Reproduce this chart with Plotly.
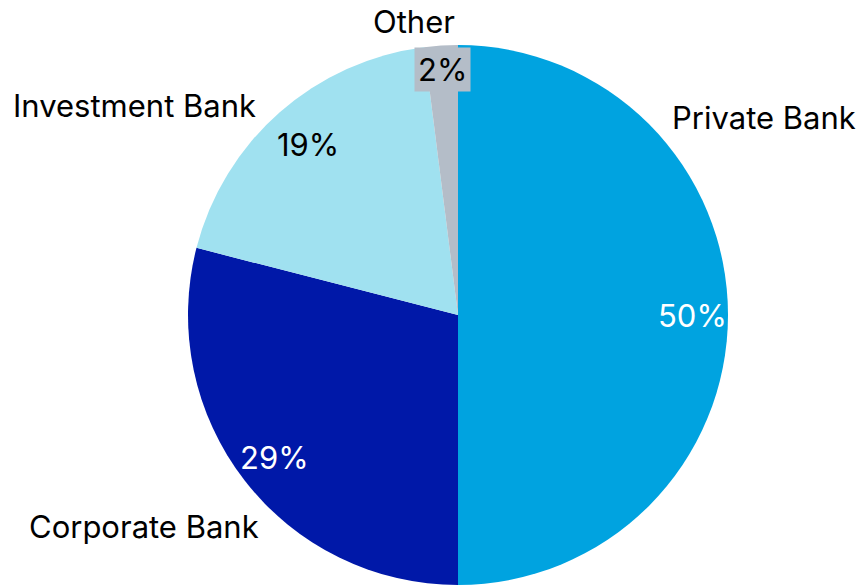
import math
import plotly.graph_objects as go

# ---- data ----
categories = ["Private Bank", "Corporate Bank", "Investment Bank", "Other"]
shares = [50, 29, 19, 2]

# ---- style ----
colors = ["#00A3E0", "#0018A8", "#A0E1F0", "#B4BDC8"]
pct_font_colors = ["white", "white", "black", "black"]
pct_bg = [None, None, None, "#B4BDC8"]
pct_radius_frac = [0.87, 0.86, 0.84, 0.91]
# category label positions (pixel centres)
label_px = [(764, 118), (144, 526), (134, 105), (414, 22)]

W, H = 859, 585
CX, CY, R = 458, 315, 270
FONT = "Inter, Open Sans, Arial, sans-serif"
FS = 31

fig = go.Figure(go.Pie(
    labels=categories,
    values=shares,
    sort=False,
    direction="clockwise",
    rotation=0,
    marker=dict(colors=colors, line=dict(width=0)),
    textinfo="none",
    hoverinfo="label+percent",
    showlegend=False,
    domain=dict(x=[(CX - R) / W, (CX + R) / W], y=[1 - (CY + R) / H, 1 - (CY - R) / H]),
))

annotations = []
total = sum(shares)
cum = 0
for i, v in enumerate(shares):
    mid = (cum + v / 2) / total * 2 * math.pi
    cum += v
    r = R * pct_radius_frac[i]
    px = CX + r * math.sin(mid)
    py = CY - r * math.cos(mid)
    ann = dict(
        x=px / W, y=1 - py / H, xref="paper", yref="paper",
        text=f"{round(v / total * 100)}%", showarrow=False,
        font=dict(family=FONT, size=FS, color=pct_font_colors[i]),
        xanchor="center", yanchor="middle",
    )
    if pct_bg[i]:
        ann["bgcolor"] = pct_bg[i]
        ann["borderpad"] = 3
    annotations.append(ann)

for name, (lx, ly) in zip(categories, label_px):
    annotations.append(dict(
        x=lx / W, y=1 - ly / H, xref="paper", yref="paper",
        text=name, showarrow=False,
        font=dict(family=FONT, size=FS, color="black"),
        xanchor="center", yanchor="middle",
    ))

fig.update_layout(
    width=W, height=H,
    margin=dict(l=0, r=0, t=0, b=0),
    paper_bgcolor="white",
    plot_bgcolor="white",
    annotations=annotations,
)

fig.write_html("out.html", config={"displayModeBar": False},
               post_script="document.body.style.margin='0px';")
